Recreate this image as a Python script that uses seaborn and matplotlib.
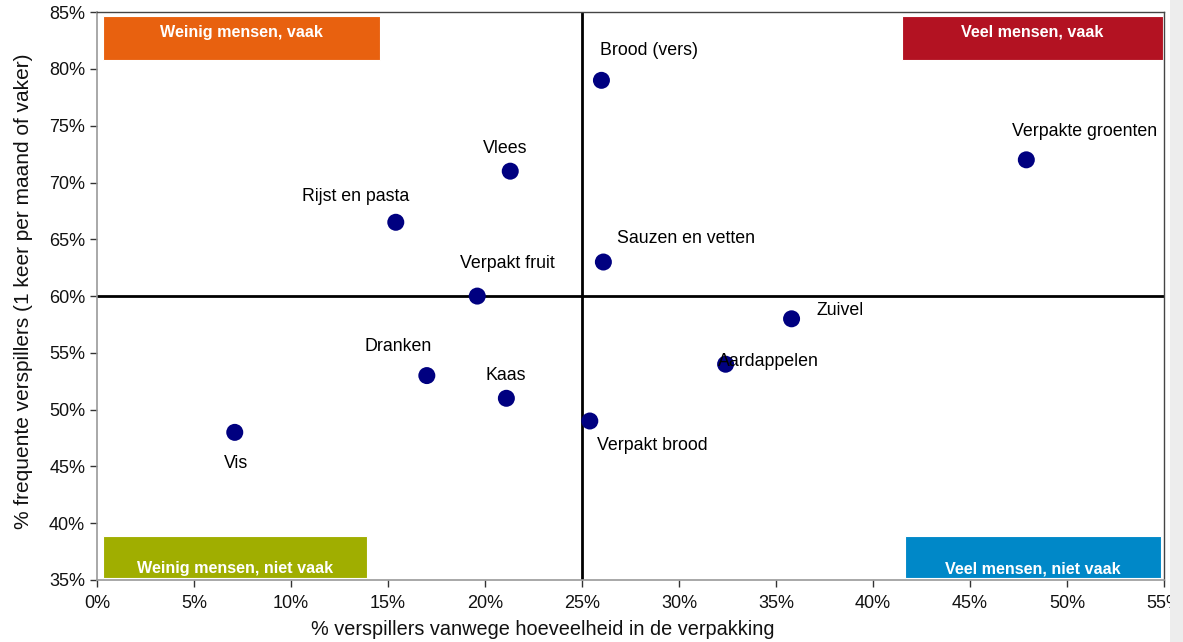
import matplotlib
matplotlib.use("Agg")
import matplotlib.pyplot as plt
import matplotlib.patches as mpatches
import seaborn as sns
import pandas as pd
from matplotlib.ticker import PercentFormatter, MultipleLocator

categories = ["Brood (vers)", "Verpakte groenten", "Vlees", "Rijst en pasta",
              "Sauzen en vetten", "Verpakt fruit", "Zuivel", "Aardappelen",
              "Dranken", "Kaas", "Verpakt brood", "Vis"]
x_vals = [26.0, 47.9, 21.3, 15.4, 26.1, 19.6, 35.8, 32.4, 17.0, 21.1, 25.4, 7.1]
y_vals = [79.0, 72.0, 71.0, 66.5, 63.0, 60.0, 58.0, 54.0, 53.0, 51.0, 49.0, 48.0]
label_offsets = [(48, 30), (58, 28), (-5, 23), (-40, 26), (83, 24), (30, 33),
                 (49, 8), (43, 3), (-29, 29), (-1, 23), (63, -24), (1, -31)]

quadrant_names = ["Weinig mensen, vaak", "Veel mensen, vaak",
                  "Weinig mensen, niet vaak", "Veel mensen, niet vaak"]
quadrant_colors = ["#E8610F", "#B31222", "#A0AE00", "#0088C8"]

x_split, y_split = 25, 60

df = pd.DataFrame({"cat": categories, "x": x_vals, "y": y_vals})

sns.set_style("white")
plt.rcParams["font.family"] = ["Liberation Sans", "DejaVu Sans"]

fig = plt.figure(figsize=(11.83, 6.42), dpi=100)
ax = fig.add_axes([0.082, 0.0966, 0.902, 0.8844])

# right-side gray strip (scrollbar in reference)
fig.patches.append(mpatches.Rectangle((0.989, 0), 0.011, 1, transform=fig.transFigure,
                                      facecolor="#EDEDED", edgecolor="none", zorder=0))

ax.axvline(x_split, color="black", lw=2, zorder=1)
ax.axhline(y_split, color="black", lw=2, zorder=1)

sns.scatterplot(data=df, x="x", y="y", ax=ax, color="#000080", s=150,
                edgecolor="none", zorder=3, legend=False)

for c, xv, yv, (dx, dy) in zip(categories, x_vals, y_vals, label_offsets):
    ax.annotate(c, (xv, yv), xytext=(dx, dy), textcoords="offset pixels",
                ha="center", va="center", fontsize=12.8, color="black")

# quadrant boxes (x0, x1, y0, y1, text valign)
boxes = [(0.3, 14.6, 80.8, 84.65, "top"), (41.5, 54.95, 80.8, 84.65, "top"),
         (0.3, 13.9, 35.2, 38.9, "bottom"), (41.65, 54.85, 35.2, 38.9, "bottom")]
for (x0, x1, y0, y1, va), name, col in zip(boxes, quadrant_names, quadrant_colors):
    ax.add_patch(mpatches.Rectangle((x0, y0), x1 - x0, y1 - y0, facecolor=col,
                                    edgecolor="white", lw=0.8, zorder=2))
    ty = y1 - 1.4 if va == "top" else y0 + 0.8
    ax.text((x0 + x1) / 2, ty, name, ha="center", va="center", color="white",
            fontsize=11.6, fontweight="bold", zorder=4)

ax.set_xlim(0, 55)
ax.set_ylim(35, 85)
ax.xaxis.set_major_locator(MultipleLocator(5))
ax.yaxis.set_major_locator(MultipleLocator(5))
ax.xaxis.set_major_formatter(PercentFormatter(decimals=0))
ax.yaxis.set_major_formatter(PercentFormatter(decimals=0))
ax.tick_params(axis="both", labelsize=13, length=5, width=1, color="#333333",
               labelcolor="#111111", direction="out", bottom=True, left=True)
ax.tick_params(axis="x", pad=6)
ax.set_xlabel("% verspillers vanwege hoeveelheid in de verpakking", fontsize=14.3,
              color="#111111")
ax.set_ylabel("% frequente verspillers (1 keer per maand of vaker)", fontsize=15,
              color="#111111")
ax.xaxis.set_label_coords(0.418, -0.088)
ax.xaxis.label.set_va("center")
ax.yaxis.set_label_coords(-0.069, 0.509)
ax.yaxis.label.set_va("center")

for side in ["left", "bottom"]:
    ax.spines[side].set_color("#999999")
    ax.spines[side].set_linewidth(1.2)
for side in ["top", "right"]:
    ax.spines[side].set_color("#444444")
    ax.spines[side].set_linewidth(1.0)

fig.savefig("out.png", dpi=100)
